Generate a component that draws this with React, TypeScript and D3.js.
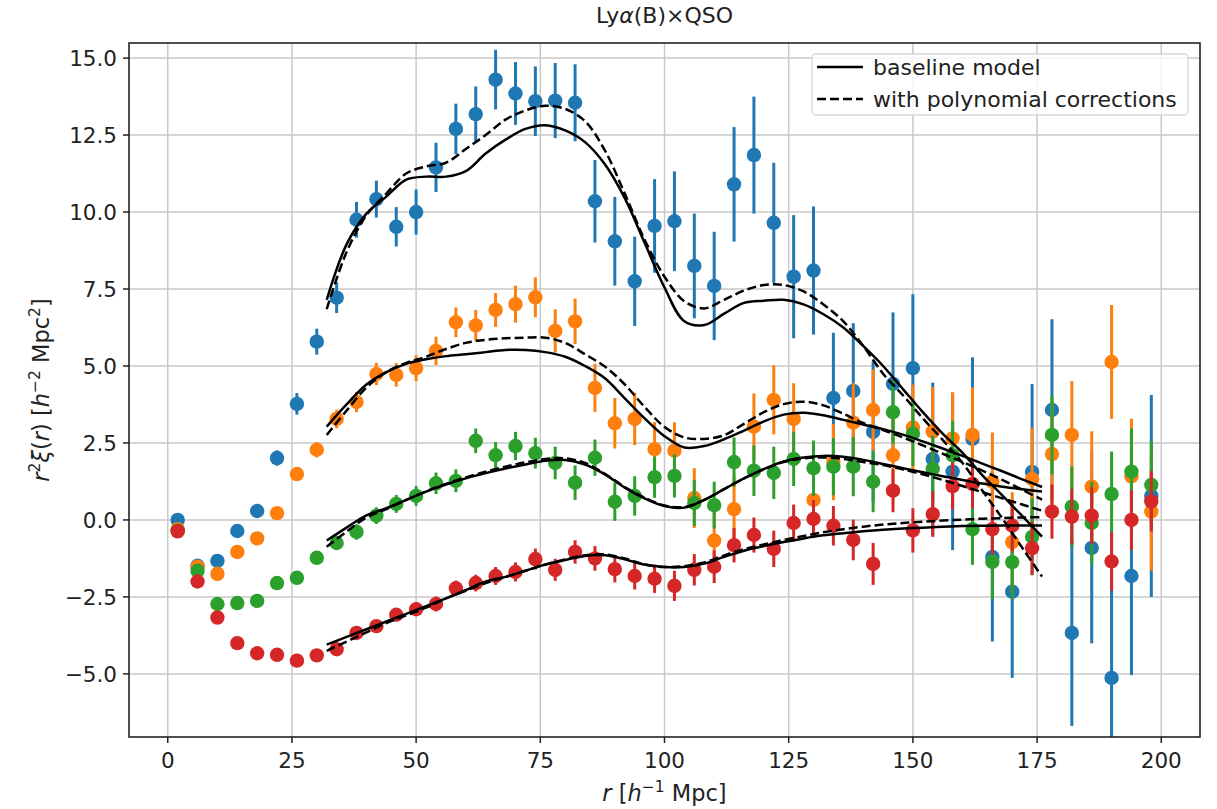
import React, { useRef, useEffect } from "react";
import * as d3 from "d3";

// bin centres of the measured correlation (h^-1 Mpc)
const rData = [
  2, 6, 10, 14, 18, 22, 26, 30, 34, 38, 42, 46, 50, 54, 58, 62, 66, 70, 74, 78,
  82, 86, 90, 94, 98, 102, 106, 110, 114, 118, 122, 126, 130, 134, 138, 142, 146,
  150, 154, 158, 162, 166, 170, 174, 178, 182, 186, 190, 194, 198,
];

const blueVals = [
  0.0, -1.49, -1.33, -0.36, 0.29, 2.01, 3.77, 5.79, 7.22, 9.75, 10.42, 9.52, 10.0,
  11.45, 12.7, 13.18, 14.3, 13.85, 13.6, 13.62, 13.55, 10.35, 9.05, 7.75, 9.55, 9.7,
  8.25, 7.6, 10.9, 11.85, 9.65, 7.9, 8.1, 3.96, 4.19, 2.86, 4.42, 4.93, 1.98, 1.57,
  2.63, -1.2, -2.33, 1.56, 3.57, -3.67, -0.91, -5.13, -1.82, 0.78,
];
const blueErr = [
  0.1, 0.1, 0.12, 0.13, 0.18, 0.25, 0.35, 0.42, 0.5, 0.58, 0.6, 0.64, 0.73, 0.8,
  0.82, 0.9, 0.97, 1.02, 1.13, 1.22, 1.25, 1.34, 1.44, 1.45, 1.52, 1.62, 1.7, 1.76,
  1.86, 1.9, 1.95, 2.0, 2.08, 2.12, 2.2, 2.28, 2.32, 2.4, 2.48, 2.55, 2.65, 2.75,
  2.8, 2.85, 2.95, 3.02, 3.1, 3.18, 3.22, 3.28,
];

const orangeVals = [
  -0.3, -1.52, -1.75, -1.04, -0.6, 0.22, 1.49, 2.28, 3.28, 3.83, 4.74, 4.71, 4.93,
  5.49, 6.42, 6.32, 6.82, 7.01, 7.23, 6.14, 6.45, 4.29, 3.14, 3.28, 2.3, 2.25, 0.71,
  -0.67, 0.35, 3.03, 3.9, 3.28, 0.65, 1.88, 3.16, 3.57, 2.1, 3.0, 2.87, 2.65, 2.76,
  1.24, -0.72, 1.33, 2.14, 2.76, 1.08, 5.13, 1.41, 0.27,
];
const orangeErr = [
  0.06, 0.06, 0.07, 0.08, 0.1, 0.15, 0.2, 0.25, 0.3, 0.33, 0.36, 0.38, 0.42, 0.46,
  0.48, 0.5, 0.55, 0.6, 0.65, 0.7, 0.74, 0.78, 0.82, 0.85, 0.88, 0.92, 0.97, 1.0,
  1.05, 1.08, 1.12, 1.16, 1.2, 1.24, 1.28, 1.32, 1.36, 1.4, 1.45, 1.5, 1.55, 1.6,
  1.62, 1.66, 1.7, 1.75, 1.8, 1.85, 1.88, 1.92,
];

const greenVals = [
  -0.35, -1.65, -2.73, -2.7, -2.63, -2.05, -1.88, -1.23, -0.75, -0.39, 0.14, 0.52,
  0.78, 1.19, 1.27, 2.57, 2.1, 2.4, 2.17, 1.85, 1.21, 2.02, 0.59, 0.78, 1.39, 1.43,
  0.55, 0.48, 1.88, 1.6, 1.53, 1.98, 1.68, 1.73, 1.73, 1.24, 3.5, 2.8, 1.66, 2.1,
  -0.3, -1.36, -1.37, -0.55, 2.76, 0.43, -0.1, 0.84, 1.57, 1.14,
];
const greenErr = [
  0.05, 0.05, 0.05, 0.06, 0.08, 0.11, 0.15, 0.19, 0.22, 0.25, 0.27, 0.29, 0.32,
  0.35, 0.37, 0.4, 0.43, 0.46, 0.5, 0.53, 0.56, 0.59, 0.62, 0.64, 0.67, 0.7, 0.74,
  0.76, 0.8, 0.82, 0.85, 0.88, 0.9, 0.93, 0.96, 0.99, 1.02, 1.05, 1.08, 1.12, 1.16,
  1.2, 1.22, 1.25, 1.28, 1.31, 1.34, 1.38, 1.4, 1.43,
];

const redVals = [
  -0.37, -2.0, -3.17, -4.0, -4.33, -4.38, -4.57, -4.4, -4.2, -3.67, -3.45, -3.08,
  -2.9, -2.73, -2.22, -2.05, -1.82, -1.69, -1.27, -1.62, -1.04, -1.25, -1.6, -1.82,
  -1.91, -2.14, -1.62, -1.52, -0.82, -0.49, -0.94, -0.1, 0.03, -0.19, -0.65, -1.43,
  0.95, -0.34, 0.19, 1.1, 1.17, -0.3, -0.19, -0.92, 0.27, 0.11, 0.14, -1.35, 0.0, 0.6,
];
const redErr = [
  0.04, 0.04, 0.04, 0.05, 0.06, 0.08, 0.1, 0.13, 0.15, 0.17, 0.18, 0.2, 0.22, 0.24,
  0.25, 0.27, 0.29, 0.31, 0.34, 0.36, 0.38, 0.4, 0.43, 0.44, 0.46, 0.49, 0.51, 0.53,
  0.56, 0.57, 0.59, 0.6, 0.62, 0.64, 0.66, 0.68, 0.7, 0.72, 0.74, 0.77, 0.8, 0.82,
  0.84, 0.86, 0.88, 0.9, 0.93, 0.95, 0.97, 0.98,
];

// model curves
const rModel = [
  32, 36, 40, 44, 48, 52, 56, 60, 64, 68, 72, 76, 80, 84, 88, 92, 96, 100, 104, 108,
  112, 116, 120, 124, 128, 132, 136, 140, 144, 148, 152, 156, 160, 164, 168, 172, 176,
];

const blueBase = [
  7.15, 8.95, 9.95, 10.5, 11.05, 11.15, 11.15, 11.33, 11.9, 12.35, 12.7, 12.82,
  12.65, 12.27, 11.55, 10.45, 9.0, 7.55, 6.45, 6.33, 6.7, 7.05, 7.12, 7.15, 7.0,
  6.68, 6.25, 5.65, 5.0, 4.25, 3.5, 2.8, 2.18, 1.45, 0.8, 0.13, -0.54,
];
const bluePoly = [
  6.85, 8.7, 9.9, 10.6, 11.25, 11.48, 11.6, 12.05, 12.5, 13.0, 13.3, 13.45, 13.35,
  12.95, 12.0, 10.6, 9.1, 7.9, 7.1, 6.87, 7.15, 7.45, 7.63, 7.63, 7.42, 7.0, 6.45,
  5.65, 4.75, 4.05, 3.3, 2.6, 1.85, 0.95, 0.05, -0.9, -1.84,
];
const orangeBase = [
  3.03, 3.75, 4.4, 4.8, 5.07, 5.22, 5.32, 5.38, 5.45, 5.52, 5.52, 5.45, 5.3, 5.0,
  4.6, 3.95, 3.3, 2.72, 2.35, 2.4, 2.62, 2.9, 3.2, 3.42, 3.48, 3.4, 3.25, 3.1, 2.95,
  2.77, 2.55, 2.32, 2.08, 1.83, 1.58, 1.32, 1.07,
];
const orangePoly = [
  2.76, 3.55, 4.3, 4.8, 5.1, 5.3, 5.55, 5.75, 5.85, 5.9, 5.92, 5.92, 5.75, 5.38,
  4.98, 4.4, 3.67, 3.02, 2.68, 2.63, 2.75, 3.12, 3.5, 3.76, 3.84, 3.72, 3.45, 3.15,
  2.92, 2.68, 2.42, 2.15, 1.88, 1.6, 1.3, 0.98, 0.66,
];
const greenBase = [
  -0.67, -0.25, 0.15, 0.38, 0.65, 0.92, 1.15, 1.35, 1.52, 1.67, 1.8, 1.92, 1.95,
  1.8, 1.48, 1.05, 0.7, 0.45, 0.4, 0.65, 1.0, 1.35, 1.65, 1.9, 2.03, 2.08, 2.05,
  1.95, 1.82, 1.68, 1.55, 1.42, 1.3, 1.18, 1.08, 1.0, 0.92,
];
const greenPoly = [
  -0.87, -0.38, 0.08, 0.35, 0.65, 0.93, 1.17, 1.38, 1.57, 1.73, 1.87, 1.98, 2.0,
  1.85, 1.5, 1.07, 0.72, 0.47, 0.42, 0.65, 1.0, 1.35, 1.65, 1.88, 2.0, 2.03, 1.98,
  1.88, 1.78, 1.64, 1.48, 1.3, 1.1, 0.9, 0.7, 0.5, 0.3,
];
const redBase = [
  -4.05, -3.8, -3.55, -3.3, -3.05, -2.8, -2.55, -2.28, -2.0, -1.85, -1.65, -1.45,
  -1.3, -1.17, -1.15, -1.28, -1.45, -1.53, -1.53, -1.42, -1.2, -1.0, -0.85, -0.72,
  -0.6, -0.5, -0.43, -0.37, -0.32, -0.28, -0.25, -0.22, -0.2, -0.19, -0.18, -0.18,
  -0.18,
];
const redPoly = [
  -4.25, -3.95, -3.65, -3.35, -3.1, -2.85, -2.55, -2.3, -2.05, -1.85, -1.65, -1.45,
  -1.28, -1.15, -1.12, -1.25, -1.45, -1.53, -1.5, -1.38, -1.15, -0.95, -0.8, -0.65,
  -0.52, -0.4, -0.3, -0.22, -0.15, -0.1, -0.06, -0.02, 0.01, 0.04, 0.06, 0.08, 0.09,
];

const xTicks = [0, 25, 50, 75, 100, 125, 150, 175, 200];
const yTicks = [-5, -2.5, 0, 2.5, 5, 7.5, 10, 12.5, 15];

const FONT = "'DejaVu Sans', sans-serif";

const App = () => {
  const chartRef = useRef<SVGSVGElement | null>(null);

  useEffect(() => {
    const svg = d3.select(chartRef.current);
    svg.selectAll("*").remove();

    const left = 129, right = 1200, top = 43, bottom = 737;

    const xScale = d3.scaleLinear().domain([-7.8, 207.8]).range([left, right]);
    const yScale = d3.scaleLinear().domain([-7.05, 15.49]).range([bottom, top]);

    svg.append("rect").attr("width", 1217).attr("height", 809).attr("fill", "white");

    svg
      .append("defs")
      .append("clipPath")
      .attr("id", "plotclip")
      .append("rect")
      .attr("x", left)
      .attr("y", top)
      .attr("width", right - left)
      .attr("height", bottom - top);

    // grid
    const grid = svg.append("g").attr("stroke", "#c9c9c9").attr("stroke-width", 1.5);
    xTicks.forEach((t) => {
      grid.append("line").attr("x1", xScale(t)).attr("x2", xScale(t)).attr("y1", top).attr("y2", bottom);
    });
    yTicks.forEach((t) => {
      grid.append("line").attr("x1", left).attr("x2", right).attr("y1", yScale(t)).attr("y2", yScale(t));
    });

    const plot = svg.append("g").attr("clip-path", "url(#plotclip)");

    const series = [
      { vals: blueVals, err: blueErr, color: "#1f77b4" },
      { vals: orangeVals, err: orangeErr, color: "#ff7f0e" },
      { vals: greenVals, err: greenErr, color: "#2ca02c" },
      { vals: redVals, err: redErr, color: "#d62728" },
    ];

    series.forEach((s) => {
      const pts = rData.map((r, i) => ({ r, v: s.vals[i], e: s.err[i] }));
      const g = plot.append("g");
      g.selectAll(".bar")
        .data(pts)
        .enter()
        .append("line")
        .attr("x1", (d) => xScale(d.r))
        .attr("x2", (d) => xScale(d.r))
        .attr("y1", (d) => yScale(d.v - d.e))
        .attr("y2", (d) => yScale(d.v + d.e))
        .attr("stroke", s.color)
        .attr("stroke-width", 3);
      g.selectAll(".dot")
        .data(pts)
        .enter()
        .append("circle")
        .attr("cx", (d) => xScale(d.r))
        .attr("cy", (d) => yScale(d.v))
        .attr("r", 7.2)
        .attr("fill", s.color);
    });

    const line = d3
      .line<number>()
      .x((_, i) => xScale(rModel[i]))
      .y((d) => yScale(d))
      .curve(d3.curveCatmullRom);

    const models = [
      { vals: blueBase, dash: null },
      { vals: bluePoly, dash: "9,4" },
      { vals: orangeBase, dash: null },
      { vals: orangePoly, dash: "9,4" },
      { vals: greenBase, dash: null },
      { vals: greenPoly, dash: "9,4" },
      { vals: redBase, dash: null },
      { vals: redPoly, dash: "9,4" },
    ];

    models.forEach((m) => {
      plot
        .append("path")
        .attr("d", line(m.vals))
        .attr("fill", "none")
        .attr("stroke", "black")
        .attr("stroke-width", 2.5)
        .attr("stroke-dasharray", m.dash);
    });

    // spines
    svg
      .append("rect")
      .attr("x", left)
      .attr("y", top)
      .attr("width", right - left)
      .attr("height", bottom - top)
      .attr("fill", "none")
      .attr("stroke", "#222")
      .attr("stroke-width", 1.6);

    // ticks
    const axisG = svg.append("g").attr("font-family", FONT).attr("font-size", 21.5).attr("fill", "#222");
    xTicks.forEach((t) => {
      axisG.append("line").attr("x1", xScale(t)).attr("x2", xScale(t)).attr("y1", bottom).attr("y2", bottom + 6).attr("stroke", "#222").attr("stroke-width", 1.5);
      axisG.append("text").attr("x", xScale(t)).attr("y", 768).attr("text-anchor", "middle").text(d3.format("d")(t));
    });
    yTicks.forEach((t) => {
      axisG.append("line").attr("x1", left - 6).attr("x2", left).attr("y1", yScale(t)).attr("y2", yScale(t)).attr("stroke", "#222").attr("stroke-width", 1.5);
      axisG
        .append("text")
        .attr("x", 117)
        .attr("y", yScale(t))
        .attr("dy", "0.36em")
        .attr("text-anchor", "end")
        .text(d3.format(".1f")(t).replace("-", "\u2212"));
    });

    // title
    const title = svg.append("text").attr("x", (left + right) / 2).attr("y", 23).attr("text-anchor", "middle").attr("font-family", FONT).attr("font-size", 22).attr("fill", "#222");
    title.append("tspan").text("Ly");
    title.append("tspan").attr("font-style", "italic").text("\u03b1");
    title.append("tspan").text("(B)\u00d7QSO");

    // x label
    const xl = svg.append("text").attr("x", (left + right) / 2).attr("y", 801).attr("text-anchor", "middle").attr("font-family", FONT).attr("font-size", 22.5).attr("fill", "#222");
    xl.append("tspan").attr("font-style", "italic").text("r");
    xl.append("tspan").text(" [");
    xl.append("tspan").attr("font-style", "italic").text("h");
    xl.append("tspan").attr("dy", -9).attr("font-size", 15.5).text("\u22121");
    xl.append("tspan").attr("dy", 9).text(" Mpc]");

    // y label
    const yl = svg.append("text").attr("transform", `translate(49, ${(top + bottom) / 2}) rotate(-90)`).attr("text-anchor", "middle").attr("font-family", FONT).attr("font-size", 22.5).attr("fill", "#222");
    yl.append("tspan").attr("font-style", "italic").text("r");
    yl.append("tspan").attr("dy", -9).attr("font-size", 15.5).text("2");
    yl.append("tspan").attr("dy", 9).attr("font-style", "italic").text("\u03be");
    yl.append("tspan").text("(");
    yl.append("tspan").attr("font-style", "italic").text("r");
    yl.append("tspan").text(") [");
    yl.append("tspan").attr("font-style", "italic").text("h");
    yl.append("tspan").attr("dy", -9).attr("font-size", 15.5).text("\u22122");
    yl.append("tspan").attr("dy", 9).text(" Mpc");
    yl.append("tspan").attr("dy", -9).attr("font-size", 15.5).text("2");
    yl.append("tspan").attr("dy", 9).text("]");

    // legend
    const legend = svg.append("g");
    legend
      .append("rect")
      .attr("x", 812)
      .attr("y", 54)
      .attr("width", 376)
      .attr("height", 61)
      .attr("rx", 4)
      .attr("fill", "white")
      .attr("fill-opacity", 0.8)
      .attr("stroke", "#d6d6d6")
      .attr("stroke-width", 1.3);
    const items = [
      { label: "baseline model", dash: null, y: 67 },
      { label: "with polynomial corrections", dash: "9,4", y: 99 },
    ];
    items.forEach((it) => {
      legend.append("line").attr("x1", 817).attr("x2", 863).attr("y1", it.y).attr("y2", it.y).attr("stroke", "black").attr("stroke-width", 2.5).attr("stroke-dasharray", it.dash);
      legend.append("text").attr("x", 873).attr("y", it.y).attr("dy", "0.36em").attr("font-family", FONT).attr("font-size", 22).attr("fill", "#222").text(it.label);
    });
  }, []);

  return (
    <svg
      ref={chartRef}
      width={1217}
      height={809}
      style={{ position: "absolute", left: 0, top: 0 }}
    />
  );
};

export default App;
